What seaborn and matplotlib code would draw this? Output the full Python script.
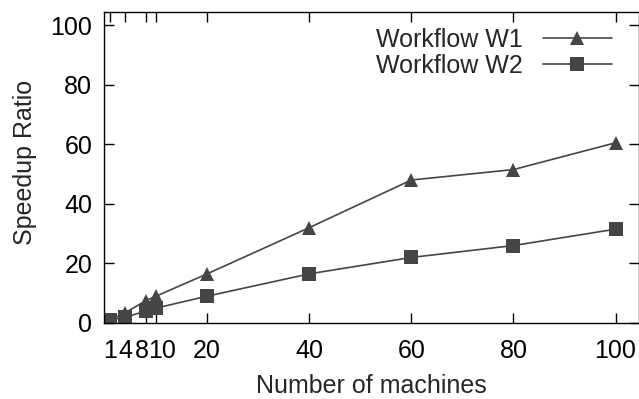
import pandas as pd
import matplotlib
matplotlib.use("Agg")
import matplotlib.pyplot as plt
import matplotlib.transforms as mtransforms
import seaborn as sns

machines = [1, 4, 8, 10, 20, 40, 60, 80, 100]
w1_speedup = [1, 3.5, 7.5, 9, 16.5, 32, 48, 51.5, 60.5]
w2_speedup = [1, 2, 4, 5, 9, 16.5, 22, 26, 31.5]
series_names = ["Workflow W1", "Workflow W2"]
y_ticks = [0, 20, 40, 60, 80, 100]

df = pd.DataFrame({
    "machines": machines * 2,
    "speedup": w1_speedup + w2_speedup,
    "workflow": [series_names[0]] * len(machines) + [series_names[1]] * len(machines),
})

sns.set_style("ticks")
plt.rcParams['font.family'] = ['Liberation Sans', 'DejaVu Sans']

fig = plt.figure(figsize=(6.39, 3.99), dpi=100)
# gnuplot-like box: left 104px, right 639px, top 12px, bottom 323px
ax = fig.add_axes([104 / 639, 76 / 399, 535 / 639, 311 / 399])

gray = "#454545"
sns.lineplot(data=df, x="machines", y="speedup", hue="workflow", style="workflow",
             markers={series_names[0]: "^", series_names[1]: "s"}, dashes=False,
             palette=[gray, gray], markersize=10, markeredgewidth=0, linewidth=1.2,
             ax=ax)

ax.set_xlim(-0.2, 104.6)
ax.set_ylim(0, 104.4)
ax.set_xticks(machines)
ax.set_xticklabels([str(m) for m in machines])
ax.set_yticks(y_ticks)
ax.tick_params(direction="in", length=7, width=1, top=True, right=True,
               labelsize=18, colors="black")
ax.tick_params(axis="x", pad=11.5)
ax.tick_params(axis="y", pad=8.5)
for s in ax.spines.values():
    s.set_visible(True)
    s.set_linewidth(1.0)
    s.set_color("black")

# nudge the crowded "8" and "10" labels apart a little
for lab, dx in zip(ax.get_xticklabels()[2:4], [-3, 4]):
    lab.set_transform(lab.get_transform() +
                      mtransforms.ScaledTranslation(dx / 72, 0, fig.dpi_scale_trans))

ax.set_xlabel("Number of machines", fontsize=18)
ax.set_ylabel("Speedup Ratio", fontsize=18)
ax.xaxis.set_label_coords(0.5, -0.165)
ax.yaxis.set_label_coords(-0.126, 0.516)

leg = ax.legend(loc="upper right", frameon=False, fontsize=18, markerfirst=False,
                handlelength=2.76, handletextpad=0.8, borderaxespad=0, borderpad=0,
                labelspacing=0.08, bbox_to_anchor=(0.9495, 0.9486))

fig.savefig("out.png", dpi=100)
